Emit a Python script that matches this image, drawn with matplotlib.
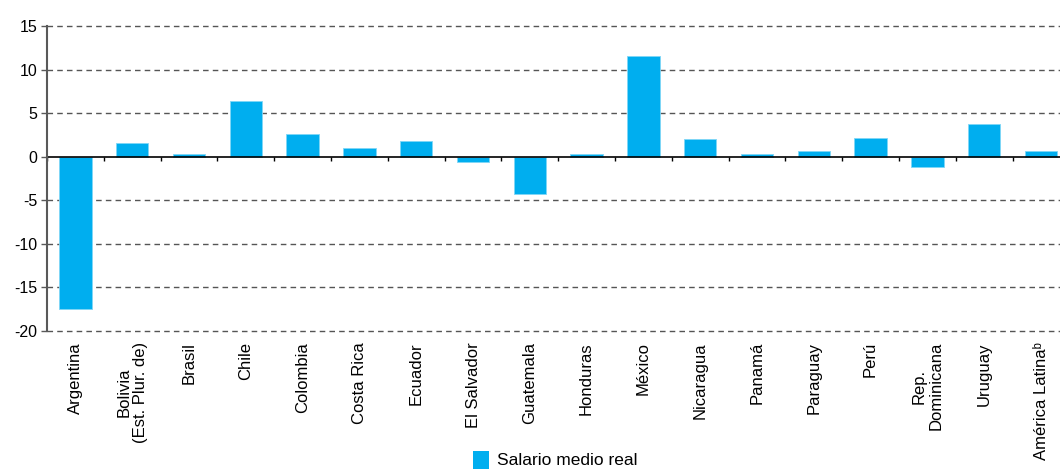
import matplotlib
matplotlib.use("Agg")
import matplotlib.pyplot as plt
import matplotlib.transforms as mtransforms
from matplotlib.patches import Patch
import numpy as np

plt.rcParams['font.family'] = ['Liberation Sans', 'DejaVu Sans']

categories = ["Argentina", "Bolivia\n(Est. Plur. de)", "Brasil", "Chile", "Colombia",
              "Costa Rica", "Ecuador", "El Salvador", "Guatemala", "Honduras",
              "México", "Nicaragua", "Panamá", "Paraguay", "Perú",
              "Rep.\nDominicana", "Uruguay", "América Latinaᵇ"]
salario = [-17.5, 1.6, 0.35, 6.4, 2.6, 1.0, 1.8, -0.6, -4.3, 0.3,
           11.6, 2.0, 0.3, 0.6, 2.1, -1.2, 3.8, 0.7]
yticks = [-20, -15, -10, -5, 0, 5, 10, 15]
legend_label = "Salario medio real"

W, H = 1060, 476
fig = plt.figure(figsize=(W / 100, H / 100), dpi=100)
left, right, top, bottom = 47, 1069.4, 26, 331
ax = fig.add_axes([left / W, 1 - bottom / H, (right - left) / W, (bottom - top) / H])

x = np.arange(len(categories))
ax.bar(x, salario, width=0.57, color="#00AEEF", edgecolor="#7fd6f7", linewidth=0.6, zorder=3)

ax.set_xlim(-0.5, len(categories) - 0.5)
ax.set_ylim(-20, 15)
ax.set_yticks(yticks)
ax.set_yticklabels([str(v) for v in yticks], fontsize=11.5)
for v in yticks:
    if v != 0:
        ax.axhline(v, color="#555555", linestyle=(0, (4, 3)), linewidth=1.0, zorder=1, clip_on=False)

for s in ["top", "right"]:
    ax.spines[s].set_visible(False)
ax.spines["left"].set_color("#595959")
ax.spines["left"].set_linewidth(1.5)
ax.spines["left"].set_zorder(5)
ax.spines["bottom"].set_position(("data", 0))
ax.spines["bottom"].set_color("black")
ax.spines["bottom"].set_linewidth(1.2)
ax.spines["bottom"].set_zorder(4)
ax.tick_params(axis="y", direction="out", length=4, width=1, color="#595959", pad=3)
ax.set_xticks(np.arange(len(categories) + 1) - 0.5)
ax.set_xticklabels([])
ax.tick_params(axis="x", direction="out", length=3, width=1, color="black")

trans = mtransforms.blended_transform_factory(ax.transData, ax.transAxes)
for xi, lab in zip(x, categories):
    ax.annotate(lab, xy=(xi, 0), xycoords=trans, xytext=(0, -8), textcoords="offset points",
                rotation=90, ha="center", va="top", fontsize=12, multialignment="center",
                linespacing=1.15)

fig.legend(handles=[Patch(facecolor="#00AEEF", edgecolor="none")], labels=[legend_label],
           loc="upper center", bbox_to_anchor=(0.524, 1 - 449 / H), frameon=False,
           fontsize=12.5, handlelength=0.9, handleheight=1.2, handletextpad=0.45,
           borderaxespad=0, borderpad=0.1)

fig.savefig("out.png", dpi=100)
